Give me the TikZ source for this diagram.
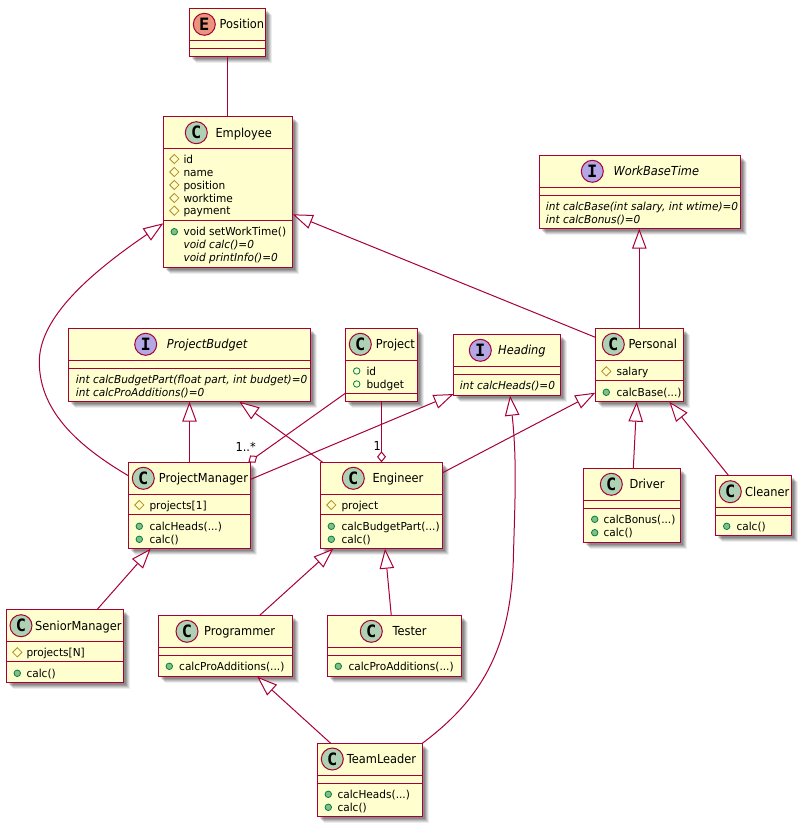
\documentclass[tikz,border=0pt]{standalone}
\usepackage{fontspec}
\setmainfont{DejaVu Sans}
\newfontfamily\spotfont{DejaVu Sans Mono}
\newfontfamily\headfont[FakeStretch=.92]{DejaVu Sans}
\newfontfamily\rowfont[FakeStretch=.96]{DejaVu Sans}
\usetikzlibrary{arrows.meta,shapes.geometric,shadows}
\definecolor{umlred}{HTML}{A80036}
\definecolor{umlfill}{HTML}{FEFECE}
\definecolor{spotclass}{HTML}{ADD1B2}
\definecolor{spotiface}{HTML}{B4A7E5}
\definecolor{spotenum}{HTML}{EB937F}
\definecolor{markfield}{HTML}{B38D22}
\definecolor{markpub}{HTML}{038048}
\definecolor{markfill}{HTML}{84BE84}
\tikzset{
    box/.style={draw=umlred, fill=umlfill, line width=1.5pt, inner sep=0pt, outer sep=0pt,
        drop shadow={shadow xshift=6.5pt, shadow yshift=-6.5pt, opacity=.07, fill=black},
        drop shadow={shadow xshift=5.5pt, shadow yshift=-5.5pt, opacity=.1, fill=black},
        drop shadow={shadow xshift=4.5pt, shadow yshift=-4.5pt, opacity=.12, fill=black},
        drop shadow={shadow xshift=3.5pt, shadow yshift=-3.5pt, opacity=.14, fill=black},
        drop shadow={shadow xshift=2.5pt, shadow yshift=-2.5pt, opacity=.14, fill=black}},
    sepline/.style={draw=umlred, line width=1.2pt},
    spot/.style={circle, draw=umlred, line width=1pt, minimum size=22pt, inner sep=0pt, font=\spotfont\bfseries\fontsize{17}{17}\selectfont},
    headtext/.style={anchor=west, inner sep=0pt, yshift=-1.2pt, text height=9.5pt, text depth=3pt, font=\headfont\fontsize{12.4}{13}\selectfont},
    rowtext/.style={anchor=west, inner sep=0pt, yshift=-1.3pt, text height=8pt, text depth=2.5pt, font=\rowfont\fontsize{11}{13}\selectfont},
    fieldmark/.style={diamond, draw=markfield, line width=.8pt, minimum size=9.5pt, inner sep=0pt},
    pubfield/.style={circle, draw=markpub, line width=.8pt, minimum size=6.5pt, inner sep=0pt},
    pubmethod/.style={pubfield, fill=markfill},
    plainlink/.style={draw=umlred, line width=1pt},
    inherit/.style={plainlink, -{Triangle[fill=white, length=20pt, width=14.5pt]}},
    hasa/.style={plainlink, -{Diamond[fill=white, length=11pt, width=9pt]}},
    multtext/.style={inner sep=0pt, font=\headfont\fontsize{12.4}{13}\selectfont}
}
\newcount\rowno
\newcommand{\umlbox}[7]{
    \node[box, minimum width={(#4-#2)*1pt}, minimum height={(#5-#3)*1pt}] (#1) at ({(#2+#4)/2},{(#3+#5)/2}) {};
    \draw[sepline] (#1.west |- 0,#6) -- (#1.east |- 0,#6);
    \draw[sepline] (#1.west |- 0,#7) -- (#1.east |- 0,#7);
}
\newcommand{\umlhead}[7]{
    \node[spot, fill=#5] (#1-spot) at (#2,#3) {#4};
    \node[headtext] (#1-name) at (#6,#3) {#7};
}
\newcommand{\umlrow}[5]{
    \global\advance\rowno by 1
    \node[#1] (mark\the\rowno) at (#2,#4) {};
    \node[rowtext] (row\the\rowno) at (#3,#4) {#5};
}
\newcommand{\umlabs}[3]{
    \global\advance\rowno by 1
    \node[rowtext] (row\the\rowno) at (#1,#2) {\itshape #3};
}
\begin{document}
\begin{tikzpicture}[x=1pt,y=-1pt]
    \useasboundingbox (0,0) rectangle (801,826);

    \umlbox{Position}{189.3}{8.3}{265.7}{56.7}{40.7}{48.7}
    \umlhead{Position}{204.3}{24.3}{E}{spotenum}{219.5}{Position}

    \umlbox{Employee}{163.3}{116.7}{292.7}{267.3}{148.3}{220.4}
    \umlhead{Employee}{196.3}{132.7}{C}{spotclass}{215.3}{Employee}
    \foreach \y/\t in {159/id,172/name,185/position,198/worktime,210.7/payment}{
        \umlrow{fieldmark}{174.3}{183.3}{\y}{\t}
    }
    \umlrow{pubmethod}{174.3}{183.3}{231.7}{void setWorkTime()}
    \umlabs{183.3}{244.3}{void calc()=0}
    \umlabs{183.3}{257.3}{void printInfo()=0}

    \umlbox{WorkBaseTime}{539.3}{155.3}{740.7}{228.7}{187.3}{195.3}
    \umlhead{WorkBaseTime}{592.3}{171.3}{I}{spotiface}{613.3}{\itshape WorkBaseTime}
    \umlabs{545.7}{206}{int calcBase(int salary, int wtime)=0}
    \umlabs{545.7}{219}{int calcBonus()=0}

    \umlbox{ProjectBudget}{68.3}{328.3}{310.7}{401.7}{360.7}{368.7}
    \umlhead{ProjectBudget}{145.7}{344.3}{I}{spotiface}{166.7}{\itshape ProjectBudget}
    \umlabs{75.7}{379.3}{int calcBudgetPart(float part, int budget)=0}
    \umlabs{75.7}{392}{int calcProAdditions()=0}

    \umlbox{Project}{345.3}{328.3}{417.7}{401.7}{360.7}{393.3}
    \umlhead{Project}{360.3}{344.3}{C}{spotclass}{375.7}{Project}
    \foreach \y/\t in {371/id,384/budget}{
        \umlrow{pubfield}{356.7}{366.3}{\y}{\t}
    }

    \umlbox{Heading}{453.7}{334.3}{560.7}{395.7}{366.7}{374.7}
    \umlhead{Heading}{480.3}{350.3}{I}{spotiface}{498}{\itshape Heading}
    \umlabs{459.7}{385}{int calcHeads()=0}

    \umlbox{Personal}{595.3}{328.3}{683.3}{401.7}{360.3}{380.3}
    \umlhead{Personal}{613.3}{344.3}{C}{spotclass}{628.3}{Personal}
    \umlrow{fieldmark}{606.3}{616.3}{371.3}{salary}
    \umlrow{pubmethod}{606.3}{616.3}{392.3}{calcBase(...)}

    \umlbox{ProjectManager}{128.3}{462.3}{250.7}{548.7}{494.3}{514.3}
    \umlhead{ProjectManager}{143.3}{478.3}{C}{spotclass}{158.7}{ProjectManager}
    \umlrow{fieldmark}{139.3}{149.3}{505}{projects[1]}
    \umlrow{pubmethod}{139.3}{149.3}{526.3}{calcHeads(...)}
    \umlrow{pubmethod}{139.3}{149.3}{539.3}{calc()}

    \umlbox{Engineer}{320.3}{462.3}{442.7}{548.7}{494.3}{514.3}
    \umlhead{Engineer}{353.3}{478.3}{C}{spotclass}{372.3}{Engineer}
    \umlrow{fieldmark}{331.3}{341.3}{505}{project}
    \umlrow{pubmethod}{331.3}{341.3}{526.3}{calcBudgetPart(...)}
    \umlrow{pubmethod}{331.3}{341.3}{539.3}{calc()}

    \umlbox{Driver}{583.3}{468.3}{680.3}{542.3}{500.4}{508.3}
    \umlhead{Driver}{611.3}{484.3}{C}{spotclass}{629.3}{Driver}
    \umlrow{pubmethod}{594.7}{603.3}{519.3}{calcBonus(...)}
    \umlrow{pubmethod}{594.7}{603.3}{532.7}{calc()}

    \umlbox{Cleaner}{715.7}{475.7}{791.3}{535.7}{507.3}{515.7}
    \umlhead{Cleaner}{730.3}{491.7}{C}{spotclass}{745}{Cleaner}
    \umlrow{pubmethod}{726.7}{736.3}{526.3}{calc()}

    \umlbox{SeniorManager}{6.3}{609.3}{123.3}{682.7}{641.3}{661.7}
    \umlhead{SeniorManager}{21}{625.7}{C}{spotclass}{35}{SeniorManager}
    \umlrow{fieldmark}{17.3}{26.3}{652.3}{projects[N]}
    \umlrow{pubmethod}{17.3}{26.3}{673.3}{calc()}

    \umlbox{Programmer}{158.7}{615.7}{292.3}{676.7}{647.3}{655.7}
    \umlhead{Programmer}{187}{631.3}{C}{spotclass}{204}{Programmer}
    \umlrow{pubmethod}{169.3}{179}{666.3}{calcProAdditions(...)}

    \umlbox{Tester}{327.7}{615.7}{461.7}{676.7}{647.3}{655.7}
    \umlhead{Tester}{371.3}{631.3}{C}{spotclass}{392.3}{Tester}
    \umlrow{pubmethod}{338.3}{348.3}{666.3}{calcProAdditions(...)}

    \umlbox{TeamLeader}{317.7}{743.3}{422.3}{816.3}{775.4}{783.3}
    \umlhead{TeamLeader}{332.3}{759}{C}{spotclass}{346.7}{TeamLeader}
    \umlrow{pubmethod}{328.3}{337.3}{794.3}{calcHeads(...)}
    \umlrow{pubmethod}{328.3}{337.3}{807.3}{calc()}

    \draw[plainlink] (Position.south) -- (Position.south |- Employee.north);
    \draw[inherit] ([yshift=-13.4pt]ProjectManager.north west) .. controls (85,450) and (39.3,415) .. (39.3,362) .. controls (39.3,322) and (80,280) .. ([yshift=44pt]Employee.south west);
    \draw[inherit] ([yshift=-9pt]Personal.north west) -- ([yshift=-97.6pt]Employee.north east);
    \draw[inherit] (Personal.north) -- (Personal.north |- WorkBaseTime.south);
    \draw[inherit] (ProjectManager.north) -- (ProjectBudget.south);
    \draw[inherit] ([xshift=2.4pt]Engineer.north west) -- ([xshift=171pt]ProjectBudget.south west);
    \draw[hasa] ([yshift=8.4pt]Project.south west) -- ([xshift=120pt]ProjectManager.north west);
    \draw[hasa] (Project.south) -- (Engineer.north);
    \draw[inherit] ([yshift=-17pt]ProjectManager.north east) -- ([yshift=1.7pt]Heading.south west);
    \draw[inherit] ([yshift=-10.4pt]Engineer.north east) -- ([yshift=9pt]Personal.south west);
    \draw[inherit] (TeamLeader.north east) .. controls (480,700) and (512,650) .. (513.5,553) .. controls (515,500) and (517,460) .. ([xshift=2.8pt]Heading.south);
    \draw[inherit] ([xshift=1.5pt]Driver.north) -- ([xshift=-2.6pt]Personal.south);
    \draw[inherit] ([xshift=13pt]Cleaner.north west) -- ([xshift=-14pt]Personal.south east);
    \draw[inherit] ([xshift=-26pt]SeniorManager.north east) -- ([xshift=22.4pt]ProjectManager.south west);
    \draw[inherit] ([xshift=-33pt]Programmer.north east) -- ([xshift=13pt]Engineer.south west);
    \draw[inherit] ([xshift=-3.4pt]Tester.north) -- ([xshift=3.5pt]Engineer.south);
    \draw[inherit] ([xshift=13pt]TeamLeader.north west) -- ([xshift=31.8pt]Programmer.south);

    \node[multtext, anchor=east] (multManager) at (256,446.7) {1..*};
    \node[multtext] (multEngineer) at (377.3,446) {1};
\end{tikzpicture}
\end{document}
